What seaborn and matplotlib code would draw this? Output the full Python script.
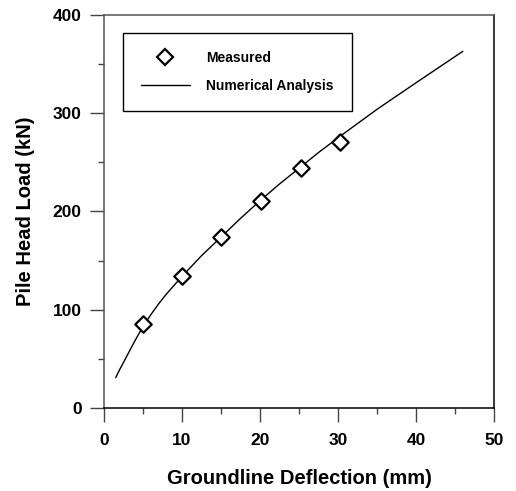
import numpy as np
import pandas as pd
import matplotlib
matplotlib.use("Agg")
import matplotlib.pyplot as plt
import seaborn as sns
from matplotlib.lines import Line2D
from matplotlib.ticker import MultipleLocator

# measured pile head load vs groundline deflection
measured_defl = [5, 10, 15, 20.1, 25.2, 30.2]
measured_load = [85.5, 134, 174, 211, 244.5, 271]

# numerical analysis curve
num_defl = [1.5, 2, 3, 4, 5, 6, 7, 8, 10, 12.5, 15, 17.5, 20, 22.5, 25,
            27.5, 30, 35, 40, 46]
num_load = [31, 39, 54, 69, 83, 95, 106, 116, 134, 155, 174, 193, 211, 228,
            244, 260, 275, 304, 331, 363]

df_meas = pd.DataFrame({"x": measured_defl, "y": measured_load})
df_num = pd.DataFrame({"x": num_defl, "y": num_load})

sns.set_theme(style="ticks")
plt.rcParams["font.family"] = ["Liberation Sans", "DejaVu Sans"]
plt.rcParams["font.weight"] = "bold"
plt.rcParams["text.color"] = "black"
plt.rcParams["axes.labelcolor"] = "black"
plt.rcParams["xtick.labelcolor"] = "black"
plt.rcParams["ytick.labelcolor"] = "black"

fig = plt.figure(figsize=(5.16, 4.91), dpi=100)
ax = fig.add_axes([0.2016, 0.169, 0.7558, 0.8005])

sns.lineplot(data=df_num, x="x", y="y", ax=ax, color="black", linewidth=1.0,
             estimator=None, sort=True)
sns.scatterplot(data=df_meas, x="x", y="y", ax=ax, marker="D", s=70,
                facecolor="white", edgecolor="black", linewidth=1.6, zorder=3)

ax.set_xlim(0, 50)
ax.set_ylim(0, 400)
ax.xaxis.set_major_locator(MultipleLocator(10))
ax.xaxis.set_minor_locator(MultipleLocator(5))
ax.yaxis.set_major_locator(MultipleLocator(100))
ax.yaxis.set_minor_locator(MultipleLocator(50))
ax.tick_params(which="major", direction="out", length=10, width=1.0,
               labelsize=12.5, color="#444444", labelcolor="black")
ax.tick_params(axis="x", which="major", pad=8)
ax.tick_params(axis="y", which="major", pad=6)
ax.tick_params(which="minor", direction="out", length=4.5, width=1.0,
               color="#444444")
ax.set_xticks(ax.get_xticks())
ax.set_xticklabels([f"{v:g}" for v in ax.get_xticks()], fontweight="bold")
ax.set_yticks(ax.get_yticks())
ax.set_yticklabels([f"{v:g}" for v in ax.get_yticks()], fontweight="bold")
ax.set_xlim(0, 50)
ax.set_ylim(0, 400)

for side in ["left", "top"]:
    ax.spines[side].set_color("#555555")
for side in ["right", "bottom"]:
    ax.spines[side].set_color("black")
for side in ax.spines:
    ax.spines[side].set_visible(True)
    ax.spines[side].set_linewidth(1.1)

ax.set_xlabel("Groundline Deflection (mm)", fontsize=14.5, fontweight="bold",
              labelpad=15, color="black")
ax.set_ylabel("Pile Head Load (kN)", fontsize=14.5, fontweight="bold",
              labelpad=13, color="black")

handles = [
    Line2D([], [], marker="D", linestyle="none", markersize=8.3,
           markerfacecolor="white", markeredgecolor="black",
           markeredgewidth=1.6),
    Line2D([], [], color="black", linewidth=1.0),
]
leg = ax.legend(handles, ["Measured", "Numerical Analysis"],
                loc="upper left", bbox_to_anchor=(0.0487, 0.756, 0.587, 0.198),
                mode="expand", borderaxespad=0, fancybox=False,
                edgecolor="black", framealpha=1, labelcolor="black",
                handlelength=3.5, handletextpad=1.2, labelspacing=1.0,
                borderpad=1.3, prop={"weight": "bold", "size": 10})
leg.get_frame().set_linewidth(1.0)

fig.savefig("out.png", dpi=100)
